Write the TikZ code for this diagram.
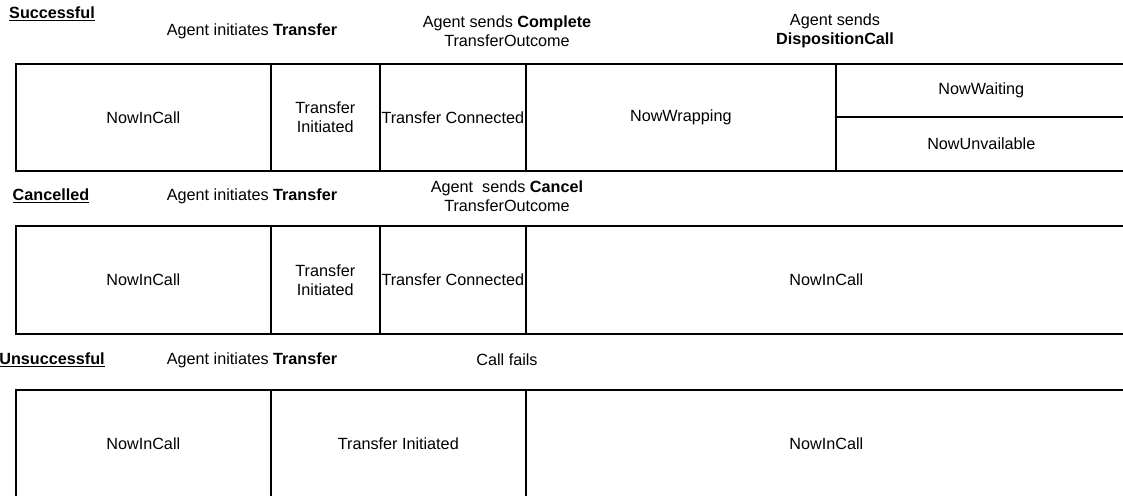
\documentclass[tikz,border=0pt]{standalone}
\usepackage{fontspec}
\setmainfont{Liberation Sans}
\begin{document}
\begin{tikzpicture}[x=1pt,y=-1pt,
  every node/.style={font=\fontsize{16.2}{19}\selectfont},
  cell/.style={draw=black, line width=1.6pt, anchor=north west, inner sep=0pt, align=center},
  lbl/.style={align=center, inner sep=0pt},
  ttl/.style={inner sep=0pt, font=\fontsize{16.2}{19}\selectfont\bfseries}]
\useasboundingbox (0,0) rectangle (1123,495);
\clip (0,0) rectangle (1123,495);
% Successful
\node[ttl] (t1) at (52,14) {\underline{Successful}};
\node[lbl] (a1) at (252,31) {Agent initiates \textbf{Transfer}};
\node[lbl] (b1) at (507,31) {Agent sends \textbf{Complete}\\TransferOutcome};
\node[lbl] (c1) at (835,31) {Agent sends\\\textbf{DispositionCall}};
\node[cell, minimum width=255pt, minimum height=107pt] (r1a) at (15,63) {NowInCall};
\node[cell, minimum width=109pt, minimum height=107pt] (r1b) at (270,63) {Transfer\\Initiated};
\node[cell, minimum width=146pt, minimum height=107pt] (r1c) at (379,63) {Transfer Connected};
\node[cell, minimum width=310pt, minimum height=107pt] (r1d) at (525,63) {NowWrapping};
\node[cell, minimum width=291pt, minimum height=53pt] (r1e) at (835,63) {NowWaiting};
\node[cell, minimum width=291pt, minimum height=54pt] (r1f) at (835,116) {NowUnvailable};
% Cancelled
\node[ttl] (t2) at (51,196) {\underline{Cancelled}};
\node[lbl] (a2) at (252,196) {Agent initiates \textbf{Transfer}};
\node[lbl] (b2) at (507,196) {Agent\ \ sends \textbf{Cancel}\\TransferOutcome};
\node[cell, minimum width=255pt, minimum height=108pt] (r2a) at (15,225) {NowInCall};
\node[cell, minimum width=109pt, minimum height=108pt] (r2b) at (270,225) {Transfer\\Initiated};
\node[cell, minimum width=146pt, minimum height=108pt] (r2c) at (379,225) {Transfer Connected};
\node[cell, minimum width=601pt, minimum height=108pt] (r2d) at (525,225) {NowInCall};
% Unsuccessful
\node[ttl] (t3) at (52,360) {\underline{Unsuccessful}};
\node[lbl] (a3) at (252,360) {Agent initiates \textbf{Transfer}};
\node[lbl] (b3) at (507,360) {Call fails};
\node[cell, minimum width=255pt, minimum height=107pt] (r3a) at (15,389) {NowInCall};
\node[cell, minimum width=255pt, minimum height=107pt] (r3b) at (270,389) {Transfer Initiated};
\node[cell, minimum width=601pt, minimum height=107pt] (r3c) at (525,389) {NowInCall};
\end{tikzpicture}
\end{document}
